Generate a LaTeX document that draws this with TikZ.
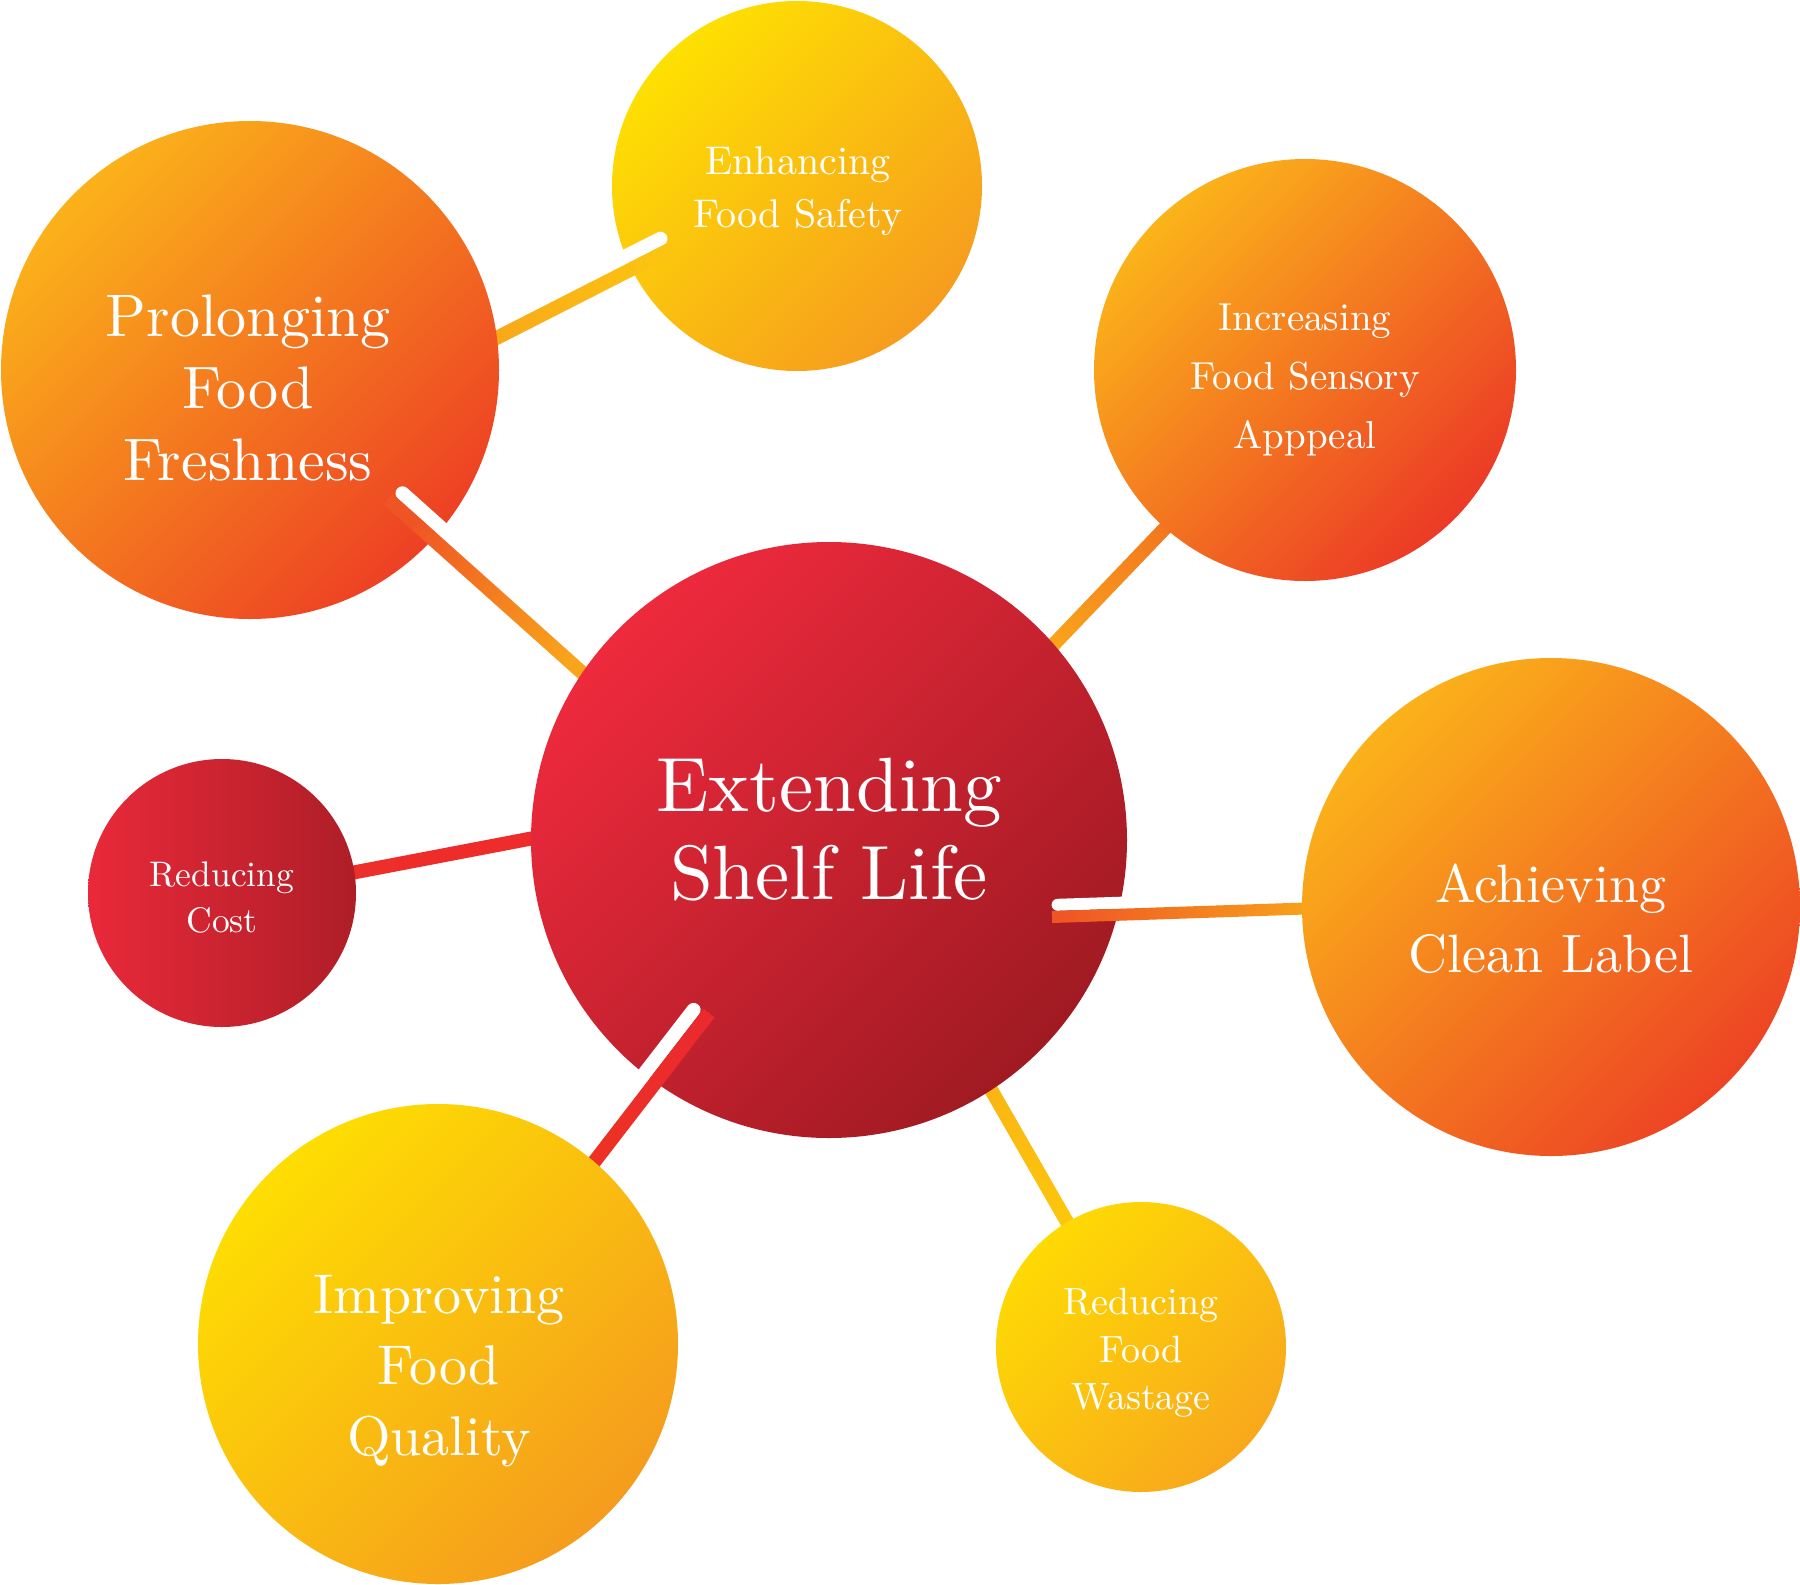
\documentclass[tikz,border=0pt]{standalone}
\usepackage{fontspec}
\setmainfont{lmroman10-regular.otf}
\usetikzlibrary{calc}
\definecolor{ctrT}{HTML}{EE2A3D}\definecolor{ctrB}{HTML}{A01A22}
\definecolor{prolT}{HTML}{FBB21A}\definecolor{prolB}{HTML}{ED4024}
\definecolor{enhT}{HTML}{FEE002}\definecolor{enhB}{HTML}{F69C1E}
\definecolor{incT}{HTML}{FBB41A}\definecolor{incB}{HTML}{EC3A26}
\definecolor{clnT}{HTML}{FBB21A}\definecolor{clnB}{HTML}{ED4424}
\definecolor{costL}{HTML}{E9293A}\definecolor{costR}{HTML}{AE1E27}
\definecolor{impT}{HTML}{FEDE02}\definecolor{impB}{HTML}{F59C1E}
\definecolor{wstT}{HTML}{FEDA04}\definecolor{wstB}{HTML}{F8A81C}
\definecolor{barA1}{HTML}{F8A81A}\definecolor{barA2}{HTML}{FCC311}
\definecolor{barB1}{HTML}{EF5524}\definecolor{barB2}{HTML}{F9A51B}
\definecolor{barC1}{HTML}{F9A31B}\definecolor{barC2}{HTML}{F27420}
\definecolor{barD1}{HTML}{EF5424}\definecolor{barD2}{HTML}{F8A41B}
\definecolor{barE1}{HTML}{EE2E2B}\definecolor{barE2}{HTML}{EE2C2B}
\definecolor{barF1}{HTML}{EE3224}\definecolor{barF2}{HTML}{EB2A2D}
\definecolor{barG1}{HTML}{FAB614}\definecolor{barG2}{HTML}{FDC80B}
% from, to, half width, colour at from, colour at to, shading angle
\newcommand\bandbar[6]{%
  \shade[bottom color=#4, top color=#5, shading angle=#6]
    ($(#1)!#3!90:(#2)$) -- ($(#2)!#3!-90:(#1)$) --
    ($(#2)!#3!90:(#1)$) -- ($(#1)!#3!-90:(#2)$) -- cycle;}
\begin{document}
\begin{tikzpicture}[x=1pt,y=1pt,
  bubble/.style 2 args={circle, inner sep=0pt, outer sep=0pt, draw=none,
    top color=#1, bottom color=#2, shading angle=45},
  lbl/.style 2 args={text=white, align=center, inner sep=0pt,
    font=\fontsize{#1}{#2}\selectfont},
  hilite/.style={draw=white, line width=#1, line cap=round},
  hilite/.default=14pt]
\useasboundingbox (0,0) rectangle (1800,-1585);
\fill[white] (0,0) rectangle (1800,-1585);

% connector end points
\coordinate (a1) at (471,-351);   \coordinate (a2) at (673,-248);
\coordinate (wa1) at (660.5,-238.7); \coordinate (wa2) at (571,-284);
\coordinate (b1) at (388,-499);   \coordinate (b2) at (597,-686);
\coordinate (wb1) at (402.5,-493.3); \coordinate (wb2) at (484.5,-566.7);
\coordinate (c1) at (1035,-664);  \coordinate (c2) at (1192,-500);
\coordinate (d1) at (1052,-917);  \coordinate (d2) at (1320,-908);
\coordinate (wd1) at (1057.6,-904.8); \coordinate (wd2) at (1160,-901.4);
\coordinate (e1) at (330,-877);   \coordinate (e2) at (560,-833);
\coordinate (f1) at (571,-1192);  \coordinate (f2) at (709,-1013);
\coordinate (wf1) at (693.6,-1009.9); \coordinate (wf2) at (626.4,-1096.9);
\coordinate (g1) at (978,-1067);  \coordinate (g2) at (1086,-1255);

\node[bubble={enhT}{enhB}, minimum size=370] (enh) at (797,-186) {};
\draw[hilite] (wa1) -- (wa2);
\bandbar{a1}{a2}{7pt}{barA1}{barA2}{-63}

\node[bubble={prolT}{prolB}, minimum size=498] (prol) at (250,-370) {};
\draw[hilite] (wb1) -- (wb2);
\bandbar{b1}{b2}{7pt}{barB1}{barB2}{-131.8}

\bandbar{c1}{c2}{7pt}{barC1}{barC2}{-43.8}
\bandbar{e1}{e2}{7pt}{barE1}{barE2}{-79.2}
\bandbar{g1}{g2}{7pt}{barG1}{barG2}{-150.1}

\node[bubble={ctrT}{ctrB}, minimum size=596] (ctr) at (829,-840) {};
\draw[hilite=12pt] (wd1) -- (wd2);
\bandbar{d1}{d2}{6pt}{barD1}{barD2}{-88.1}
\draw[hilite] (wf1) -- (wf2);
\bandbar{f1}{f2}{7pt}{barF1}{barF2}{-37.6}

\node[bubble={clnT}{clnB}, minimum size=498] (cln) at (1551,-907) {};
\node[bubble={impT}{impB}, minimum size=480] (imp) at (438,-1344) {};
\node[bubble={incT}{incB}, minimum size=422] (inc) at (1305,-370) {};
\node[circle, inner sep=0pt, draw=none, left color=costL, right color=costR,
      minimum size=268] (cost) at (222,-893) {};
\node[bubble={wstT}{wstB}, minimum size=290] (wst) at (1141,-1347) {};

\node[lbl={77}{88}] (ctr-t) at (829,-829.6) {Extending\\Shelf Life};
\node[lbl={60}{72}] (prol-t) at (248,-388) {Prolonging\\Food\\Freshness};
\node[lbl={40}{53}] (enh-t) at (798,-191.5) {Enhancing\\Food Safety};
\node[lbl={39}{59}] (inc-t) at (1305,-379.5) {Increasing\\Food Sensory\\Apppeal};
\node[lbl={54}{70}] (cln-t) at (1551,-919) {Achieving\\Clean Label};
\node[lbl={35.5}{46}] (cost-t) at (222,-898) {Reducing\\Cost};
\node[lbl={56}{71}] (imp-t) at (439,-1371) {Improving\\Food\\Quality};
\node[lbl={38}{47.5}] (wst-t) at (1141,-1353) {Reducing\\Food\\Wastage};
\end{tikzpicture}
\end{document}
